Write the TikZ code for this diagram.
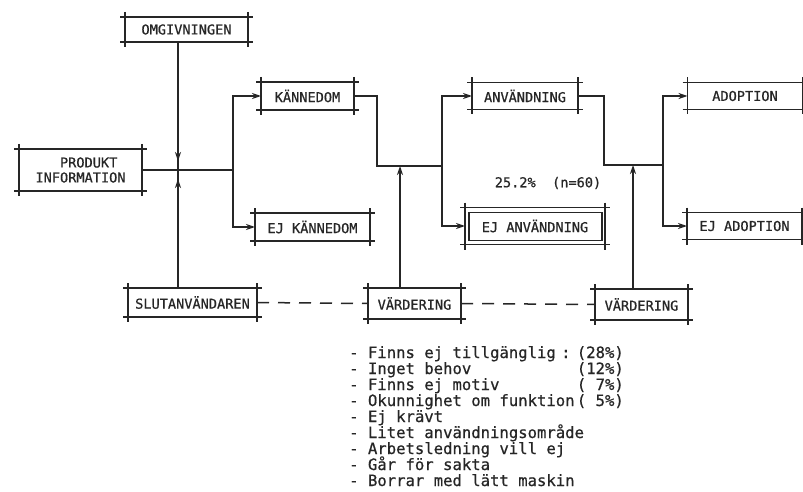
\documentclass[tikz,border=0pt]{standalone}
\usepackage{fontspec}
\setmonofont[FakeBold=0.6]{DejaVu Sans Mono}
\usetikzlibrary{arrows.meta}
\definecolor{ink}{HTML}{262626}
\begin{document}
\begin{tikzpicture}[x=1pt,y=-1pt,
  box/.style 2 args={draw=none, minimum width=#1, minimum height=#2, inner sep=0pt, outer sep=0pt,
    font=\ttfamily\fontsize{13.6}{15}\selectfont, text=ink, align=center},
  boxline/.style={draw=ink, line width=1.8pt},
  conn/.style={draw=ink, line width=1.5pt},
  arr/.style={conn, -{Stealth[length=9pt,width=6pt]}},
  dashline/.style={conn, dash pattern=on 12pt off 9pt},
  listtext/.style={inner sep=0pt, anchor=base west, text=ink, font=\ttfamily\fontsize{15.6}{16}\selectfont},
  pcttext/.style={inner sep=0pt, anchor=base east, text=ink, font=\ttfamily\fontsize{15.6}{16}\selectfont},
  note/.style={inner sep=0pt, text=ink, font=\ttfamily\fontsize{13.6}{15}\selectfont}
]
\useasboundingbox (0,0) rectangle (803,492);
\fill[white] (0,0) rectangle (803,492);

% boxes
\node[box={123}{25}] (omg) at (186.5,29.5) {OMGIVNINGEN};
\node[box={123}{42}] (prod) at (80.5,170) {\hspace*{1.2em}PRODUKT\\INFORMATION};
\node[box={93}{28}] (kann) at (307.5,96) {KÄNNEDOM};
\node[box={115}{28}] (ejkann) at (312.5,227) {EJ KÄNNEDOM};
\node[box={106}{27}] (anv) at (525,96) {ANVÄNDNING};
\node[box={140}{37}] (ejanv) at (535,226) {EJ ANVÄNDNING};
\node[box={115}{27}] (adop) at (745,96) {ADOPTION};
\node[box={115}{27}] (ejadop) at (744.5,226) {EJ ADOPTION};
\node[box={129}{29}] (slut) at (192.5,302.5) {SLUTANVÄNDAREN};
\node[box={93}{31}] (vard1) at (414.5,303.5) {VÄRDERING};
\node[box={93}{31}] (vard2) at (641.5,304.5) {VÄRDERING};

\foreach \n in {omg,prod,kann,ejkann,anv,ejanv,adop,ejadop,slut,vard1,vard2}{
  \draw[boxline] ([xshift=-5pt]\n.north west) -- ([xshift=5pt]\n.north east);
  \draw[boxline] ([xshift=-5pt]\n.south west) -- ([xshift=5pt]\n.south east);
  \draw[boxline] ([yshift=5pt]\n.north west) -- ([yshift=-5pt]\n.south west);
  \draw[boxline] ([yshift=5pt]\n.north east) -- ([yshift=-5pt]\n.south east);
}
\draw[boxline, line width=1.3pt] ([shift={(4pt,-5pt)}]ejanv.north west) rectangle ([shift={(-3pt,4pt)}]ejanv.south east);

% junction coordinates
\coordinate (j0) at (178,170);
\coordinate (j1) at (233,170);
\coordinate (m1) at (377,166);
\coordinate (j2) at (442,166);
\coordinate (a1) at (400,166);
\coordinate (m2) at (604,165);
\coordinate (j3) at (663,165);
\coordinate (a2) at (633,165);

% connectors
\draw[conn] (j0 |- omg.south) -- (j0 |- slut.north);
\draw[arr] (j0 |- omg.south) -- ([yshift=9pt]j0);
\draw[arr] (j0 |- slut.north) -- ([yshift=-9pt]j0);
\draw[conn] (prod.east) -- (j1);
\draw[arr] (j1) |- (kann.west);
\draw[arr] (j1) |- (ejkann.west);

\draw[conn] (kann.east) -| (m1) -- (j2);
\draw[arr] (j2) |- (anv.west);
\draw[arr] (j2) |- (ejanv.west);
\draw[arr] (a1 |- vard1.north) -- (a1);

\draw[conn] (anv.east) -| (m2) -- (j3);
\draw[arr] (j3) |- (adop.west);
\draw[arr] (j3) |- (ejadop.west);
\draw[arr] (a2 |- vard2.north) -- (a2);

\draw[dashline] (slut.east) -- (vard1.west);
\draw[dashline] (vard1.east) -- (vard2.west);

% texts
\node[note] (pct) at (548,183) {25.2\%\ \ (n=60)};

\node[listtext] (l1) at (349,358) {- Finns ej tillgänglig};
\node[listtext] (c1) at (561,358) {:};
\node[listtext] (l2) at (349,374) {- Inget behov};
\node[listtext] (l3) at (349,390) {- Finns ej motiv};
\node[listtext] (l4) at (349,406) {- Okunnighet om funktion};
\node[listtext] (l5) at (349,422) {- Ej krävt};
\node[listtext] (l6) at (349,438) {- Litet användningsområde};
\node[listtext] (l7) at (349,454) {- Arbetsledning vill ej};
\node[listtext] (l8) at (349,470) {- Går för sakta};
\node[listtext] (l9) at (349,486) {- Borrar med lätt maskin};
\node[pcttext] (p1) at (624,358) {(28\%)};
\node[pcttext] (p2) at (624,374) {(12\%)};
\node[pcttext] (p3) at (624,390) {(\ 7\%)};
\node[pcttext] (p4) at (624,406) {(\ 5\%)};
\end{tikzpicture}
\end{document}
